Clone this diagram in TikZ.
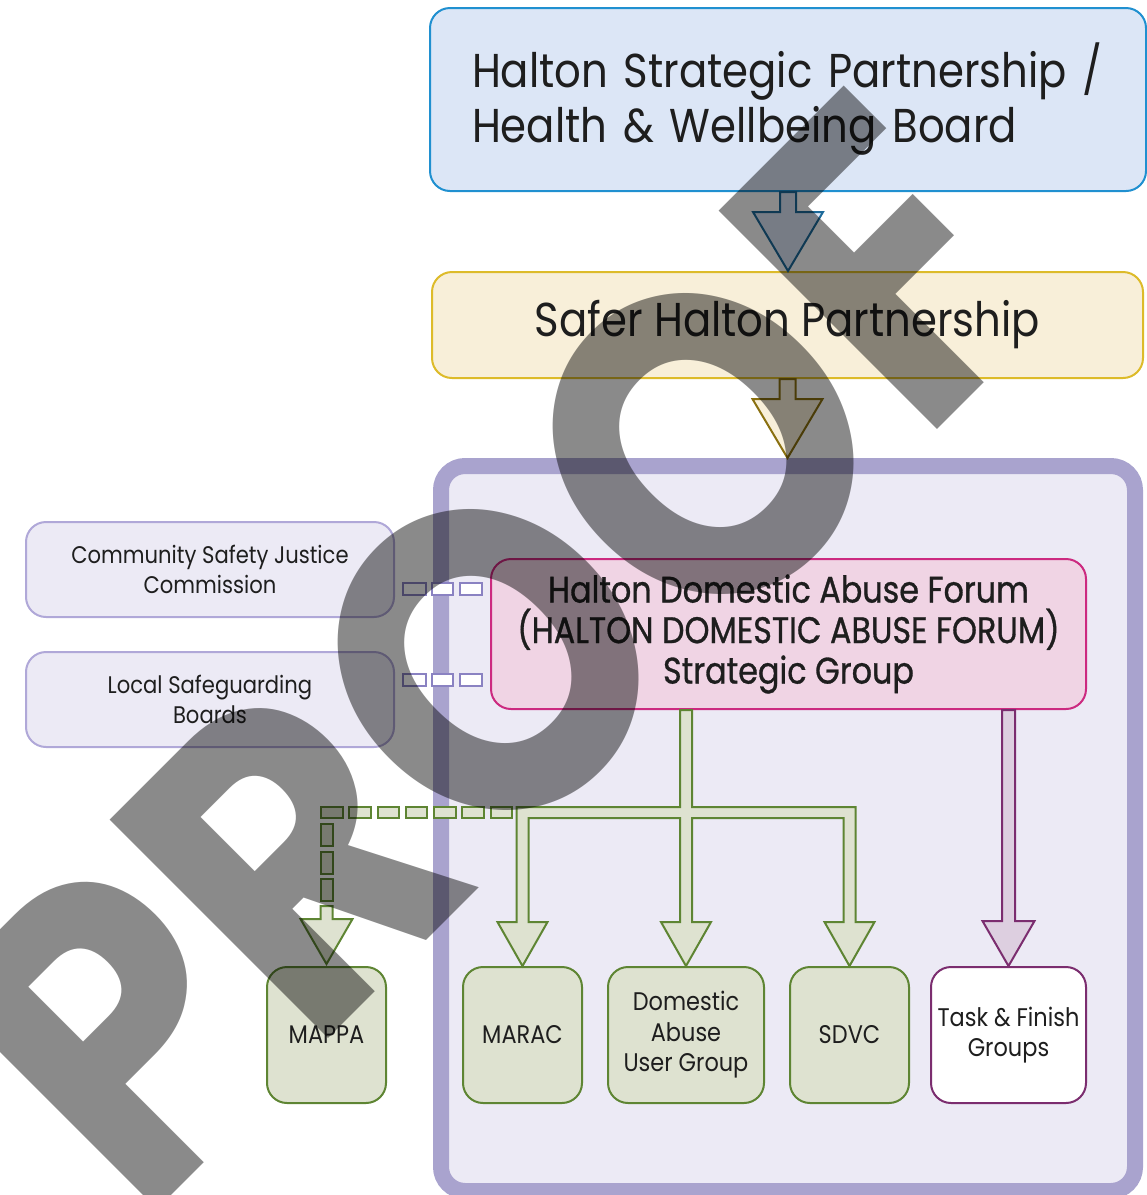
\documentclass[tikz,border=0pt]{standalone}
\usepackage{fontspec}
\setmainfont{Poppins}[FakeStretch=0.88]
\newfontfamily\medfont{Poppins}[FakeStretch=0.86, FakeBold=0.8]
\usetikzlibrary{calc}
\definecolor{blueFill}{HTML}{DCE6F6}
\definecolor{blueLine}{HTML}{2090D0}
\definecolor{blueArrow}{HTML}{1D6A9A}
\definecolor{yellowFill}{HTML}{F8EFD9}
\definecolor{yellowLine}{HTML}{DDBB2A}
\definecolor{yellowArrow}{HTML}{8A7010}
\definecolor{purpleBorder}{HTML}{A9A3CE}
\definecolor{purpleFill}{HTML}{ECEAF5}
\definecolor{pinkFill}{HTML}{F0D4E4}
\definecolor{pinkLine}{HTML}{CC2A80}
\definecolor{greenFill}{HTML}{DEE2D0}
\definecolor{greenLine}{HTML}{5E8533}
\definecolor{plumLine}{HTML}{7B2D6F}
\definecolor{plumFill}{HTML}{DDCFE0}
\definecolor{dashPurple}{HTML}{8A82C2}
\definecolor{sideLine}{HTML}{B0A8D8}
\definecolor{txt}{HTML}{1E1E1E}
\begin{document}
\begin{tikzpicture}[x=1pt,y=-1pt,
  box/.style={rounded corners=20pt, line width=2pt, inner sep=0pt, align=center, text=txt},
  bigtext/.style={font=\fontsize{47.5}{55}\selectfont},
  midtext/.style={font=\medfont\fontsize{37}{40.5}\selectfont},
  smalltext/.style={font=\fontsize{24}{30.5}\selectfont},
  btext/.style={font=\fontsize{25.5}{30.5}\selectfont},
  sidebox/.style={box, draw=sideLine, fill=purpleFill, minimum width=368pt, minimum height=95pt, smalltext},
  greenbox/.style={box, draw=greenLine, fill=greenFill, minimum height=136pt, btext},
  barrow/.style={line width=2pt, draw=blueArrow, fill=blueFill, line join=miter},
  yarrow/.style={line width=2pt, draw=yellowArrow, fill=yellowFill, line join=miter},
  garrow/.style={line width=2pt, draw=greenLine, fill=greenFill, line join=miter},
  parrow/.style={line width=2pt, draw=plumLine, fill=plumFill, line join=miter},
  pdash/.style={line width=2pt, draw=dashPurple, fill=white},
]
\useasboundingbox (0,0) rectangle (1147,1195);

% container
\node[draw=purpleBorder, fill=purpleFill, line width=16pt, rounded corners=24pt,
      minimum width=694pt, minimum height=725pt, inner sep=0pt] (cont) at (788,828.5) {};

% top boxes
\node[box, draw=blueLine, fill=blueFill, minimum width=716pt, minimum height=183pt,
      text width=632pt, align=left, bigtext] (hsp) at (788,99.5)
      {Halton Strategic Partnership /\\Health \& Wellbeing Board};
\node[box, draw=yellowLine, fill=yellowFill, minimum width=711pt, minimum height=106pt, bigtext]
      (shp) at (787.5,325) {Safer Halton Partnership};

% forum
\node[box, draw=pinkLine, fill=pinkFill, minimum width=595pt, minimum height=150pt, midtext]
      (forum) at (788.5,634) {Halton Domestic Abuse Forum\\(HALTON DOMESTIC ABUSE FORUM)\\Strategic Group};

% side boxes
\node[sidebox] (csj) at (210,569.5) {Community Safety Justice\\Commission};
\node[sidebox] (lsb) at (210,699.5) {Local Safeguarding\\Boards};

% bottom boxes
\node[greenbox, minimum width=119pt] (mappa) at (326.5,1035) {MAPPA};
\node[greenbox, minimum width=119pt] (marac) at (522.5,1035) {MARAC};
\node[greenbox, minimum width=156pt] (daug) at (686,1035) {Domestic\\Abuse\\User Group};
\node[greenbox, minimum width=119pt] (sdvc) at (849.5,1035) {SDVC};
\node[box, draw=plumLine, fill=white, minimum width=155pt, minimum height=136pt, btext]
      (tfg) at (1008.5,1035) {Task \& Finish\\Groups};

\coordinate (bar) at (686,812.5);

% blue arrow
\draw[barrow] let \p1=(hsp.south), \p2=(shp.north) in
  (\x1-8pt,\y1) -- (\x1-8pt,\y2+59pt) -- (\x1-35pt,\y2+59pt) -- (\x1,\y2)
  -- (\x1+35pt,\y2+59pt) -- (\x1+8pt,\y2+59pt) -- (\x1+8pt,\y1) -- cycle;
% yellow arrow
\draw[yarrow] let \p1=(shp.south), \p2=(cont.north) in
  (\x1-8pt,\y1) -- (\x1-8pt,\y2+59pt) -- (\x1-35pt,\y2+59pt) -- (\x1,\y2)
  -- (\x1+35pt,\y2+59pt) -- (\x1+8pt,\y2+59pt) -- (\x1+8pt,\y1) -- cycle;

% green tree
\draw[garrow] let \p0=(forum.south), \p1=(marac.north), \p2=(daug.north), \p3=(sdvc.north), \p4=(bar) in
  (\x2-6pt,\y0) -- (\x2-6pt,\y4+5.5pt) -- (\x1-6pt,\y4+5.5pt) -- (\x1-6pt,\y1+44pt)
  -- (\x1-25pt,\y1+44pt) -- (\x1,\y1) -- (\x1+25pt,\y1+44pt) -- (\x1+6pt,\y1+44pt)
  -- (\x1+6pt,\y4-5.5pt) -- (\x2-6pt,\y4-5.5pt) -- (\x2-6pt,\y2+44pt) -- (\x2-25pt,\y2+44pt)
  -- (\x2,\y2) -- (\x2+25pt,\y2+44pt) -- (\x2+6pt,\y2+44pt) -- (\x2+6pt,\y4-5.5pt)
  -- (\x3-6pt,\y4-5.5pt) -- (\x3-6pt,\y3+44pt) -- (\x3-25pt,\y3+44pt) -- (\x3,\y3)
  -- (\x3+25pt,\y3+44pt) -- (\x3+6pt,\y3+44pt) -- (\x3+6pt,\y4+5.5pt) -- (\x2+6pt,\y4+5.5pt)
  -- (\x2+6pt,\y0) -- cycle;

% dashed green connector to MAPPA
\foreach \i in {0,...,6}
  \draw[garrow] ({512-28.25*\i-21.5},807) rectangle ({512-28.25*\i},818);
\foreach \j in {0,1,2}
  \draw[garrow] (321,{824+27.5*\j}) rectangle (333,{846+27.5*\j});
\draw[garrow] let \p1=(mappa.north) in
  (\x1-6pt,\y1+60pt) -- (\x1-6pt,\y1+47pt) -- (\x1-26pt,\y1+47pt) -- (\x1,\y1+2pt)
  -- (\x1+26pt,\y1+47pt) -- (\x1+6pt,\y1+47pt) -- (\x1+6pt,\y1+60pt) -- cycle;

% plum arrow
\draw[parrow] let \p1=(tfg.north), \p0=(forum.south) in
  (\x1-6.5pt,\y0) -- (\x1-6.5pt,\y1+45pt) -- (\x1-26pt,\y1+45pt) -- (\x1,\y1)
  -- (\x1+26pt,\y1+45pt) -- (\x1+6.5pt,\y1+45pt) -- (\x1+6.5pt,\y0) -- cycle;

% dashed purple connectors
\foreach \a/\b in {403/426,432/453,460/482}{
  \draw[pdash] (\a,583) rectangle (\b,595);
  \draw[pdash] (\a,673.5) rectangle (\b,686);
}

% watermark
\node[rotate=45, text=black, opacity=0.46, font=\bfseries\fontsize{440}{440}\selectfont, inner sep=0pt]
  (wm) at (496,652) {PROOF};
\end{tikzpicture}
\end{document}
